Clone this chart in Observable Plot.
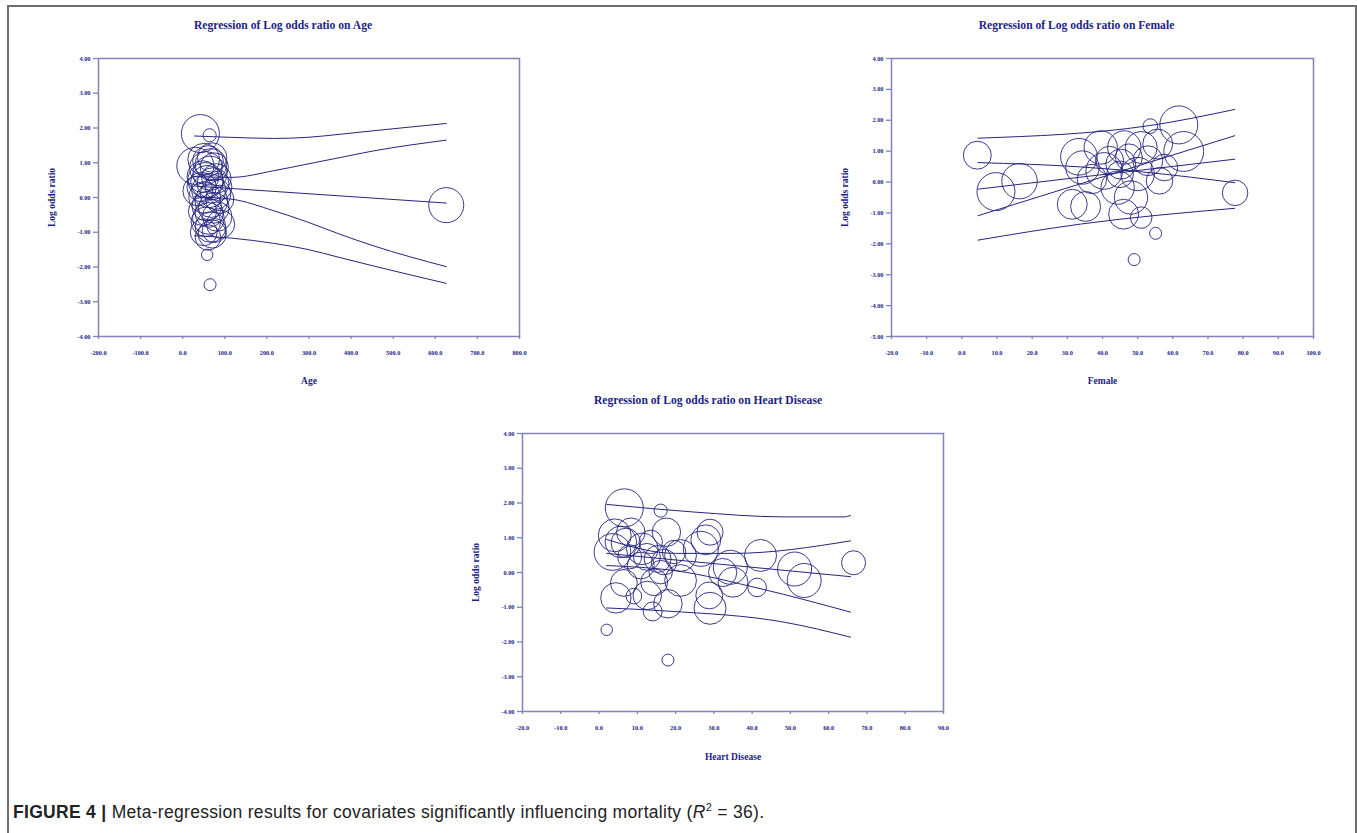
<!DOCTYPE html>
<html><head><meta charset="utf-8">
<script src="https://cdn.jsdelivr.net/npm/d3@7"></script>
<script src="https://cdn.jsdelivr.net/npm/@observablehq/plot@0.6"></script>
<style>
html,body{margin:0;padding:0;background:#fff;}
body{width:1357px;height:833px;overflow:hidden;position:relative;}
#border{position:absolute;left:7px;top:5px;width:1350px;height:900px;border:2px solid #6e6e6e;border-bottom:none;box-sizing:border-box;}
.panel{position:absolute;}
#cap{position:absolute;left:13px;top:801px;font-family:"Liberation Sans",Arial,sans-serif;font-size:17.5px;letter-spacing:0.3px;color:#222;white-space:nowrap;}
#cap b{font-weight:bold;}
</style></head>
<body>
<div id="border"></div>
<div id="p1" class="panel" style="left:40px;top:0px"></div>
<div id="p2" class="panel" style="left:830px;top:0px"></div>
<div id="p3" class="panel" style="left:460px;top:385px"></div>
<div id="cap"><b>FIGURE 4 |</b> Meta-regression results for covariates significantly influencing mortality (<i>R</i><sup style="font-size:11px">2</sup> = 36).</div>
<script>
// ---------- data ----------
const yTicks8 = [-4, -3, -2, -1, 0, 1, 2, 3, 4];
const yTicks9 = [-5, -4, -3, -2, -1, 0, 1, 2, 3, 4];
const ageTicks = [-200, -100, 0, 100, 200, 300, 400, 500, 600, 700, 800];
const femaleTicks = [-20, -10, 0, 10, 20, 30, 40, 50, 60, 70, 80, 90, 100];
const heartTicks = [-20, -10, 0, 10, 20, 30, 40, 50, 60, 70, 80, 90];

// studies: [covariate, log odds ratio, relative weight]
const ageStudies = [
  [42,1.84,100],[64,1.79,12],[58,-1.65,9],[65,-2.51,10],[626,-0.22,85],
  [30,0.91,95],[36,0.19,62],[50,1.10,70],[60,1.05,65],[70,1.15,60],[55,0.85,75],
  [75,0.88,55],[65,0.70,80],[48,0.60,70],[80,0.55,60],[58,0.45,75],[72,0.40,70],
  [85,0.30,50],[45,0.30,60],[62,0.20,80],[78,0.10,65],[52,0.00,70],[68,-0.10,75],
  [88,-0.05,55],[57,-0.25,60],[74,-0.30,65],[63,-0.45,55],[82,-0.55,60],[90,-0.77,55],
  [55,-0.70,60],[66,-0.85,65],[50,-1.00,50],[70,-1.05,55],[60,-1.15,45],[75,-0.95,40],
  [54,0.50,85],[67,0.95,70],[61,-0.60,70],[47,-0.40,55]
];
const femaleStudies = [
  [4.4,0.87,54],[9.7,-0.31,100],[16.4,0.03,87],[77.7,-0.35,45],[61.7,1.85,100],
  [53.6,1.81,15],[63.1,0.99,110],[49.0,-2.51,10],[55.1,-1.66,10],[51.0,-1.15,32],
  [46.0,-1.04,62],[35.2,-0.79,62],[31.4,-0.72,62],[33.3,0.82,93],[34.3,0.47,77],
  [39.5,1.12,77],[46.2,1.12,77],[51.0,1.12,71],[55.7,1.23,62],[56.2,0.04,49],
  [40.5,0.36,93],[44.3,-0.18,77],[48.1,-0.50,77],[50.0,0.26,77],[45.0,0.25,49],
  [52.9,0.69,62],[57.6,0.47,49],[45.2,0.58,62],[37.0,0.10,60],[47.5,0.80,50],[42.0,0.70,55]
];
const heartStudies = [
  [6.6,1.86,100],[16.1,1.78,12],[2.0,-1.65,9],[18.0,-2.52,10],[66.5,0.28,40],
  [51.1,0.10,80],[53.6,-0.23,80],[42.2,0.49,71],[41.3,-0.43,24],[29.0,1.16,47],
  [27.9,0.94,62],[28.8,-0.66,50],[29.0,-1.03,71],[34.3,0.15,80],[35.0,-0.28,62],
  [32.3,0.00,55],[26.6,0.68,85],[21.3,0.49,70],[21.3,-0.23,70],[18.0,-0.90,56],
  [17.6,1.16,56],[14.0,-1.12,25],[12.6,-0.66,56],[9.1,-0.68,17],[4.4,-0.73,64],
  [6.5,-0.30,50],[3.5,0.59,93],[4.1,1.07,75],[5.7,0.88,69],[8.3,1.16,56],
  [11.3,0.68,69],[10.9,0.20,50],[15.3,0.39,50],[16.1,0.01,38],[14.4,-0.28,50],
  [13.5,0.88,38],[19.6,0.59,38],[8.0,0.45,40],[12.5,0.45,50],[17.0,0.30,45],[7.0,0.85,60]
];

// regression lines: [series, covariate, log odds ratio]
const ageLines = [
  ["pu",28,1.77],["pu",117,1.73],["pu",216,1.70],["pu",295,1.73],["pu",374,1.82],["pu",453,1.92],["pu",626,2.13],
  ["cu",28,0.60],["cu",117,0.58],["cu",216,0.77],["cu",295,0.96],["cu",374,1.15],["cu",453,1.34],["cu",626,1.65],
  ["rg",28,0.33],["rg",626,-0.16],
  ["cl",28,0.02],["cl",117,-0.05],["cl",216,-0.38],["cl",295,-0.70],["cl",374,-1.06],["cl",453,-1.39],["cl",626,-1.99],
  ["pl",28,-1.10],["pl",117,-1.17],["pl",216,-1.32],["pl",295,-1.49],["pl",374,-1.73],["pl",453,-1.97],["pl",626,-2.47]
];
const femaleLines = [
  ["pu",4.6,1.42],["pu",52.9,1.82],["pu",77.6,2.35],
  ["a",4.6,0.63],["a",33.8,0.49],["a",52.9,0.31],["a",77.6,-0.02],
  ["rg",4.6,-0.23],["rg",77.6,0.74],
  ["b",4.6,-1.09],["b",77.6,1.50],
  ["pl",4.6,-1.88],["pl",33.8,-1.36],["pl",77.6,-0.85]
];
const heartLines = [
  ["pu",2,1.96],["pu",24.8,1.74],["pu",48.4,1.60],["pu",64,1.60],["pu",65.7,1.64],
  ["cu",2,0.95],["cu",20,0.55],["cu",35,0.55],["cu",65.7,0.91],
  ["rg",2,0.55],["rg",65.7,-0.12],
  ["cl",2,0.20],["cl",20,0.05],["cl",42.3,-0.47],["cl",65.7,-1.14],
  ["pl",2,-1.02],["pl",17.9,-1.11],["pl",48.4,-1.43],["pl",65.7,-1.86]
];

// ---------- drawing ----------
const NAVY = "#25257f";
const TEXT = "#1e1e86";
const FRAME = "#8383b5";
const SERIF = "'Liberation Serif','Times New Roman',serif";

function panel(o) {
  return Plot.plot({
    width: o.width, height: o.height,
    marginTop: o.m[0], marginRight: o.m[1], marginBottom: o.m[2], marginLeft: o.m[3],
    style: {fontFamily: SERIF, background: "transparent", overflow: "visible"},
    x: {domain: o.xDomain},
    y: {domain: o.yDomain},
    r: {type: "sqrt", domain: [0, 100], range: [0, 19]},
    marks: [
      Plot.frame({stroke: FRAME, strokeWidth: 1.5}),
      Plot.axisY({ticks: o.yTicks, tickFormat: d => d.toFixed(2), tickSize: 5, tickPadding: 3,
        fontSize: 6.3, fontWeight: "bold", fill: TEXT, stroke: FRAME, strokeWidth: 1.3, label: null}),
      Plot.axisX({ticks: o.xTicks, tickFormat: d => d.toFixed(1), tickSize: 3, tickPadding: 11,
        fontSize: 6.3, fontWeight: "bold", fill: TEXT, stroke: FRAME, strokeWidth: 1.3, label: null}),
      Plot.line(o.lines, {x: d => d[1], y: d => d[2], z: d => d[0], stroke: NAVY, strokeWidth: 1, curve: "monotone-x"}),
      Plot.dot(o.dots, {x: d => d[0], y: d => d[1], r: d => d[2], stroke: NAVY, strokeWidth: 0.9, fill: "none"}),
      Plot.text([o.title], {text: d => d, frameAnchor: "top", textAnchor: "middle", lineAnchor: "middle", dx: o.tdx, dy: -33,
        fontSize: 11.6, fontWeight: "bold", fill: TEXT}),
      Plot.text([o.xLabel], {text: d => d, frameAnchor: "bottom", textAnchor: "middle", lineAnchor: "middle", dy: o.xdy,
        fontSize: 9.5, fontWeight: "bold", fill: TEXT}),
      Plot.text(["Log odds ratio"], {text: d => d, frameAnchor: "left", textAnchor: "middle", lineAnchor: "middle", dx: -47, rotate: -90,
        fontSize: 9.5, fontWeight: "bold", fill: TEXT})
    ]
  });
}

document.getElementById("p1").append(panel({
  width: 500, height: 390, m: [58, 21, 54, 58],
  xDomain: [-200, 800], xTicks: ageTicks, yDomain: [-4, 4], yTicks: yTicks8,
  dots: ageStudies, lines: ageLines,
  title: "Regression of Log odds ratio on Age", tdx: -26, xLabel: "Age", xdy: 44
}));
document.getElementById("p2").append(panel({
  width: 500, height: 390, m: [58, 17, 54, 61],
  xDomain: [-20, 100], xTicks: femaleTicks, yDomain: [-5, 4], yTicks: yTicks9,
  dots: femaleStudies, lines: femaleLines,
  title: "Regression of Log odds ratio on Female", tdx: -26, xLabel: "Female", xdy: 44
}));
document.getElementById("p3").append(panel({
  width: 500, height: 380, m: [48, 17, 54, 62],
  xDomain: [-20, 90], xTicks: heartTicks, yDomain: [-4, 4], yTicks: yTicks8,
  dots: heartStudies, lines: heartLines,
  title: "Regression of Log odds ratio on Heart Disease", tdx: -25, xLabel: "Heart Disease", xdy: 45
}));
</script>
</body></html>
